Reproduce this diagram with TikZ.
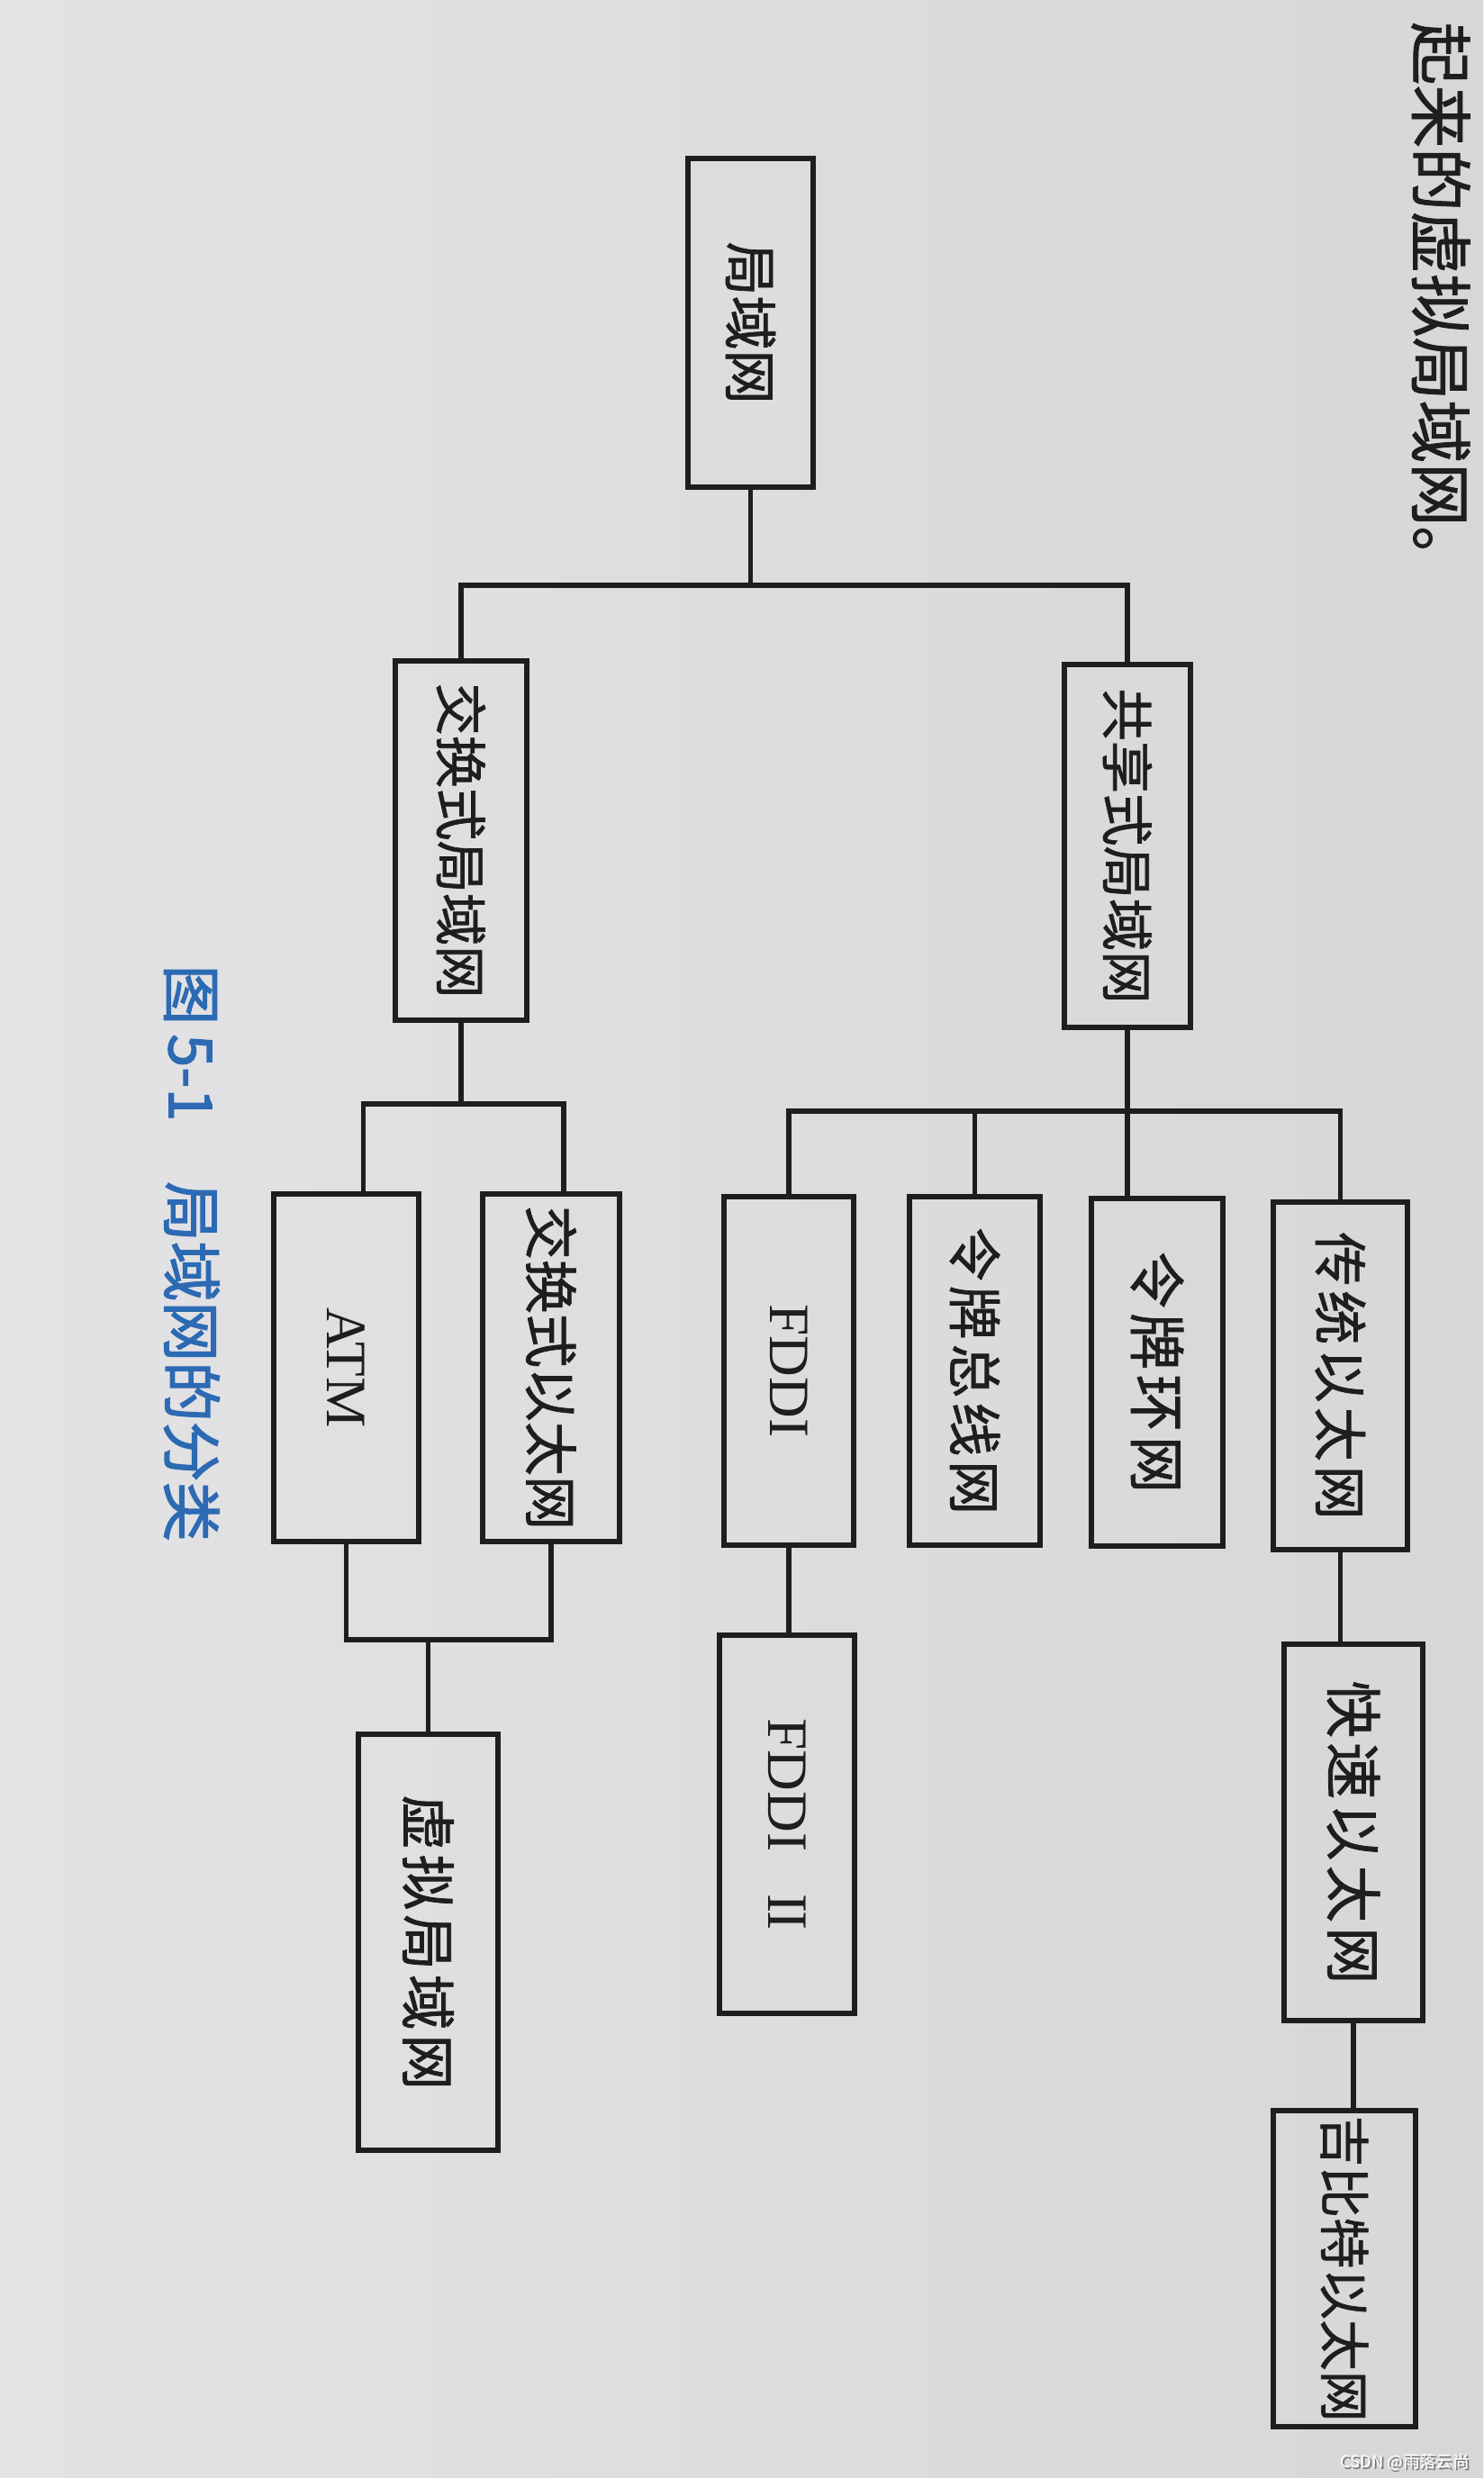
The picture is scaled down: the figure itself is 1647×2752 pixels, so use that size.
\documentclass[tikz,border=0pt]{standalone}
\usepackage{fontspec}
\usepackage{graphicx}
\setmainfont{Liberation Serif}
\newfontfamily\cjk[FakeBold=1.2]{Noto Sans CJK SC}
\newfontfamily\cjkw[LetterSpace=8.0,FakeBold=1.2]{Noto Sans CJK SC}
\newfontfamily\cjkcap[FakeBold=1.8]{Noto Sans CJK SC}
\newfontfamily\cjkplain{Noto Sans CJK SC}
\definecolor{paper}{HTML}{D7D6D9}
\definecolor{paperlt}{HTML}{E3E2E5}
\definecolor{ink}{HTML}{1F1D1E}
\definecolor{capblue}{HTML}{2C6AB3}
\newcommand\fsz[1]{\fontsize{#1}{#1}\selectfont}
\newcommand\mybox[6]{\node[box,minimum width={#4*0.3pt},minimum height={#5*0.3pt}] (#1) at (#2,#3) {\rotatebox{-90}{#6}};}
\begin{document}
\begin{tikzpicture}[x=0.3pt,y=-0.3pt,
  box/.style={draw=ink,line width=1.9pt,inner sep=0pt,outer sep=0pt,text=ink},
  conn/.style={draw=ink,line width=1.6pt,line join=miter}]
\shade[left color=paperlt,right color=paper] (0,0) rectangle (1647,2752);
\useasboundingbox (0,0) rectangle (1647,2752);

% boxes
\mybox{lan}{833.5}{358.5}{139}{365}{\cjk\fsz{18}局域网}
\mybox{sh}{1252}{939.5}{140}{403}{\cjk\fsz{17.5}共享式局域网}
\mybox{sw}{512}{933.5}{146}{399}{\cjk\fsz{17.5}交换式局域网}
\mybox{trad}{1488.5}{1528}{149}{386}{\cjkw\fsz{18}传统以太网}
\mybox{ring}{1285}{1524}{146}{386}{\cjkw\fsz{19}令牌环网}
\mybox{tbus}{1082.5}{1522.5}{145}{387}{\cjkw\fsz{18}令牌总线网}
\mybox{fddi}{876}{1522.5}{144}{387}{\fsz{19}FDDI}
\mybox{swe}{612}{1519}{152}{386}{\cjk\fsz{18}交换式以太网}
\mybox{atm}{384.5}{1519}{161}{386}{\fsz{19}ATM}
\mybox{fast}{1503}{2035}{154}{418}{\cjkw\fsz{19}快速以太网}
\mybox{fddi2}{874}{2026}{150}{420}{\fsz{19}FDDI\hspace{0.75em}I\kern-0.04em I}
\mybox{vlan}{475.5}{2157}{155}{462}{\cjkw\fsz{18.5}虚拟局域网}
\mybox{gig}{1493}{2519.5}{158}{351}{\cjk\fsz{17}吉比特以太网}

% bus levels
\coordinate (b1) at (0,650);
\coordinate (b2) at (0,1234);
\coordinate (b3) at (0,1226);
\coordinate (b4) at (0,1821);

% level 1
\draw[conn] (lan.south) -- (lan.south |- b1);
\draw[conn] (sw.north) -- (sw.north |- b1) -- (sh.north |- b1) -- (sh.north);

% shared branch
\draw[conn] (sh.south) -- (sh.south |- ring.north);
\draw[conn] (fddi.north) -- (fddi.north |- b2) -- (trad.north |- b2) -- (trad.north);
\draw[conn] (tbus.north) -- (tbus.north |- b2);

% switched branch
\draw[conn] (sw.south) -- (sw.south |- b3);
\draw[conn] ([xshift=5.7pt]atm.north) -- ([xshift=5.7pt]atm.north |- b3)
  -- ([xshift=4.2pt]swe.north |- b3) -- ([xshift=4.2pt]swe.north);
\draw[conn] (atm.south) -- (atm.south |- b4) -- (swe.south |- b4) -- (swe.south);
\draw[conn] (vlan.north |- b4) -- (vlan.north);

% chains
\draw[conn] (trad.south) -- (trad.south |- fast.north);
\draw[conn] (fast.south) -- (fast.south |- gig.north);
\draw[conn] (fddi.south) -- (fddi.south |- fddi2.north);

% caption
\node[anchor=north,inner sep=0pt,text=capblue,font=\cjkcap\fsz{20}] (cap) at (213,1071)
  {\rotatebox{-90}{图\hspace{0.15em}5-1\hspace{1.0em}局域网的分类}};

% running text at top
\node[anchor=south,inner sep=0pt,text=ink,font=\cjk\fsz{21}] (toptext) at (1600,655)
  {\rotatebox{-90}{起来的虚拟局域网。}};

% watermark
\node[anchor=south east,inner sep=0pt,text=black!55,font=\cjkplain\fsz{5.5}] (wmshadow) at (1634,2746) {CSDN @雨落云尚};
\node[anchor=south east,inner sep=0pt,text=white,font=\cjkplain\fsz{5.5}] (wm) at (1632,2744) {CSDN @雨落云尚};
\end{tikzpicture}
\end{document}
